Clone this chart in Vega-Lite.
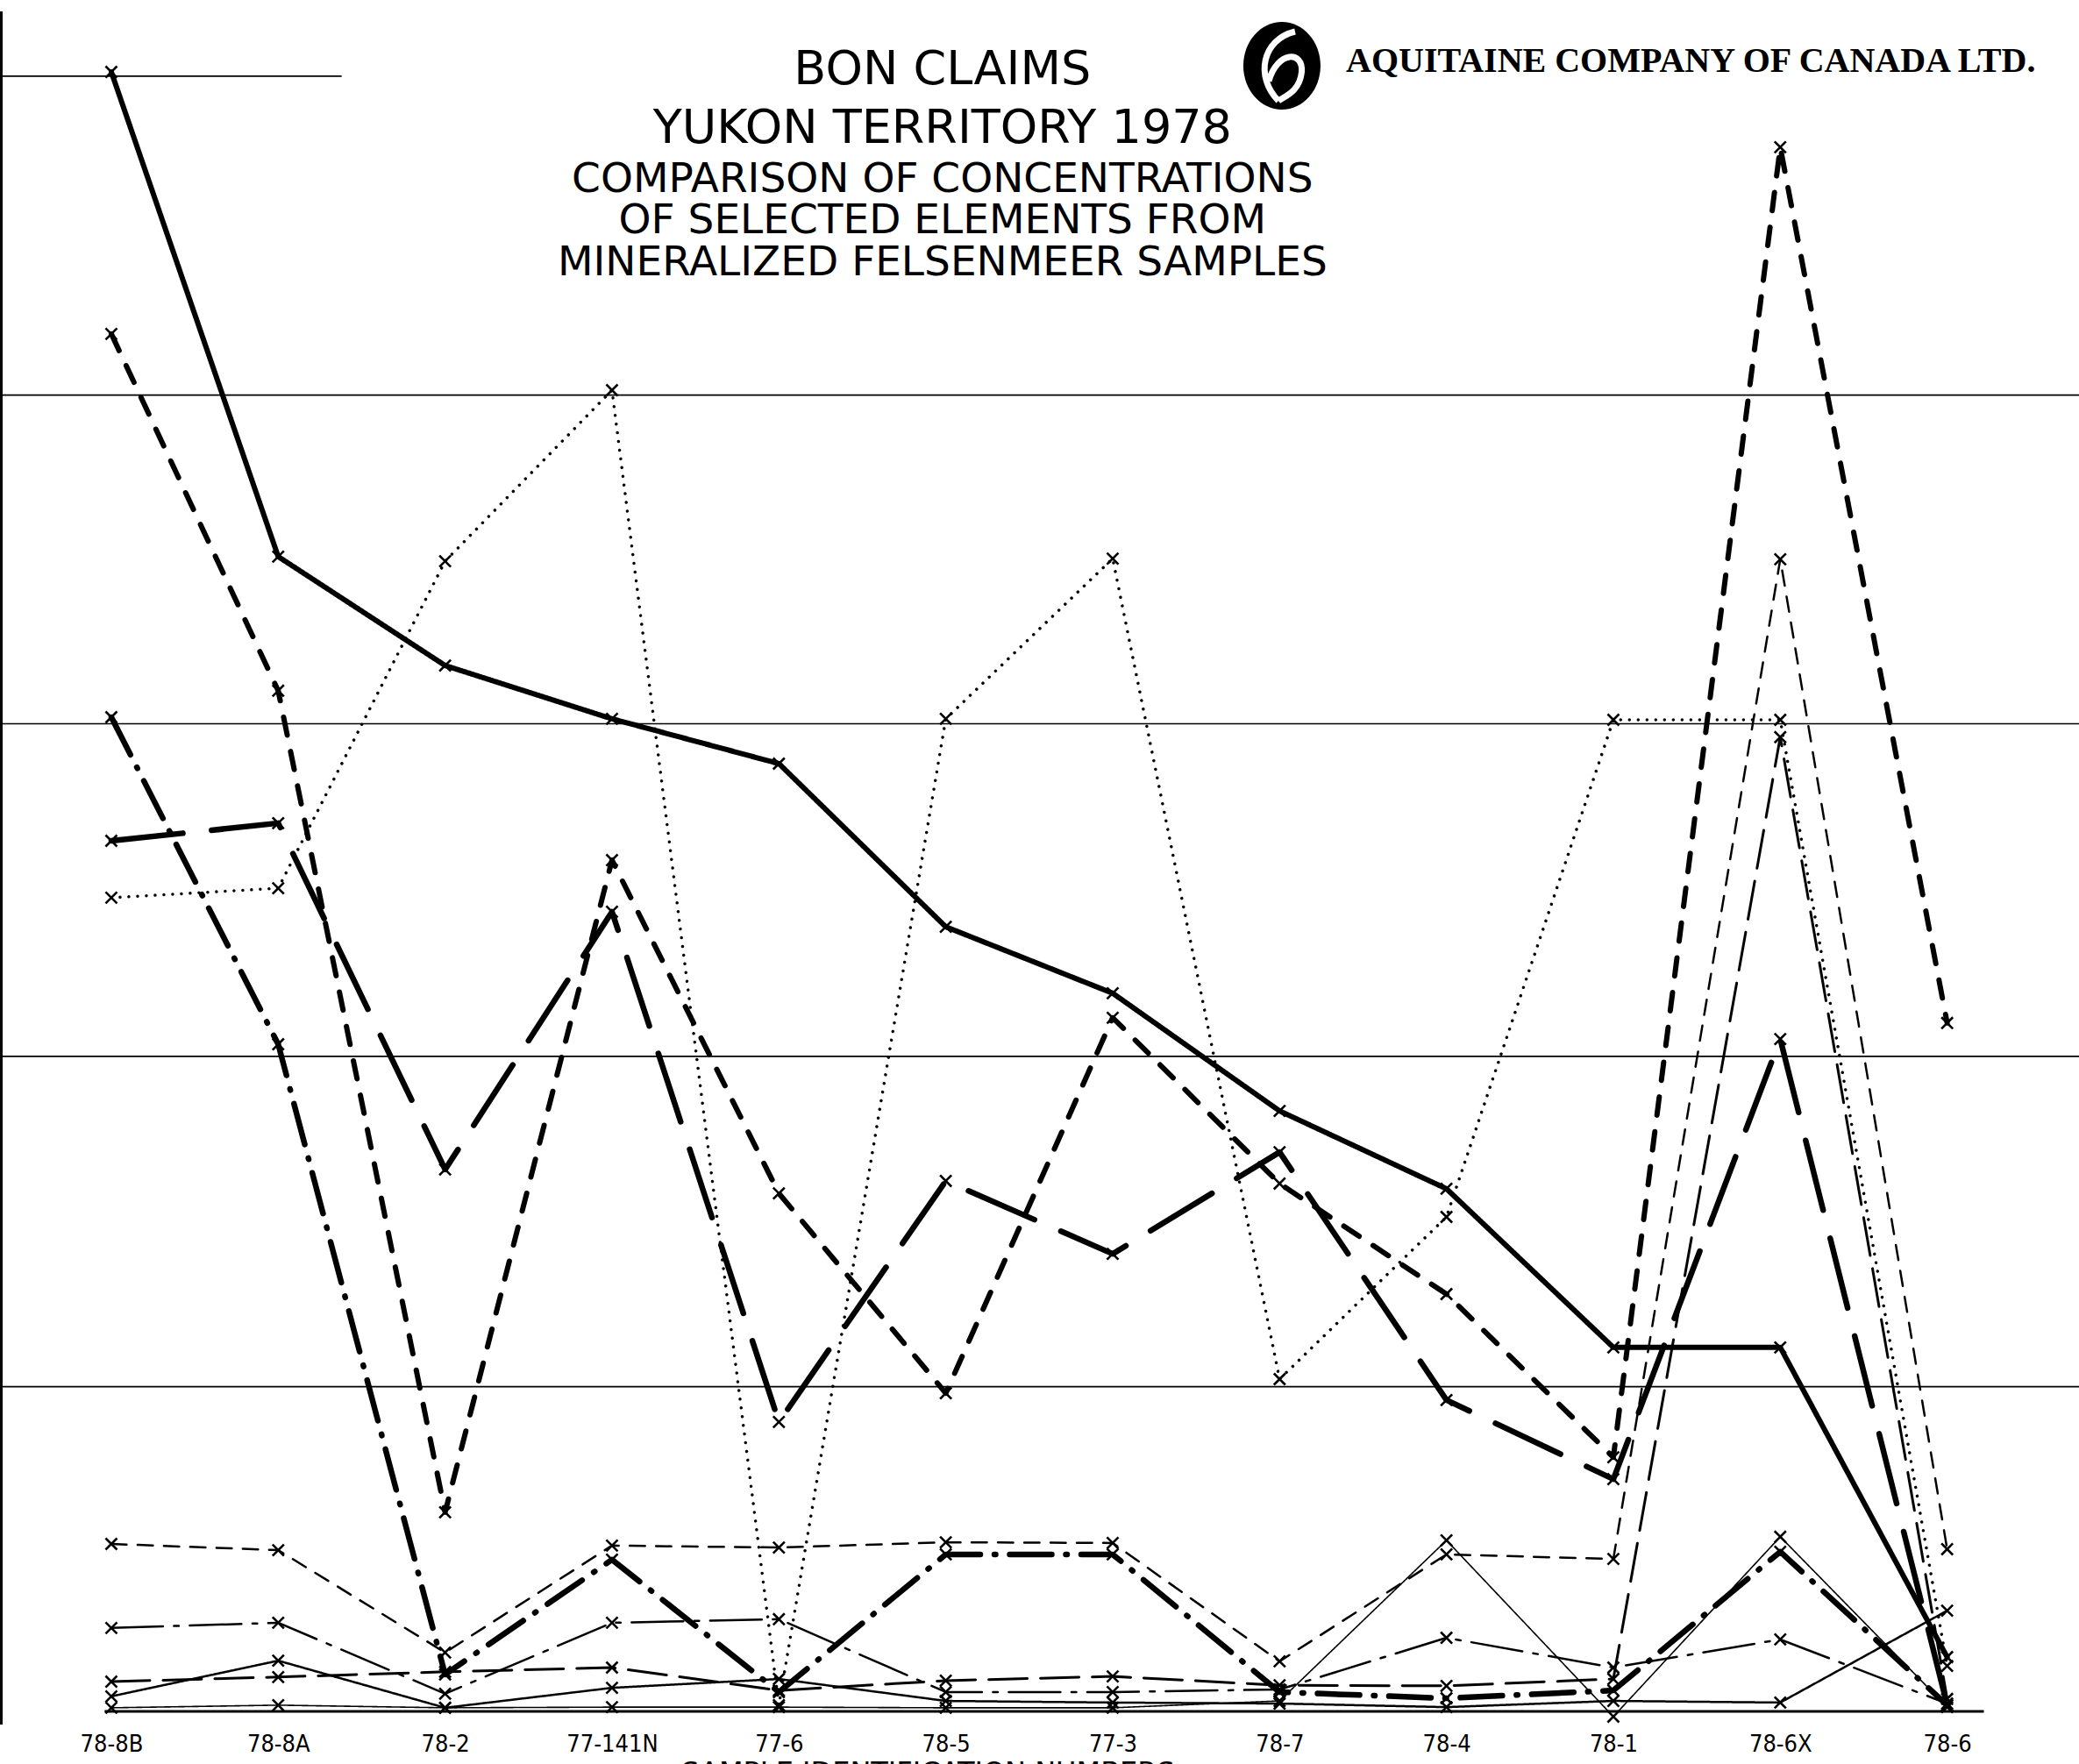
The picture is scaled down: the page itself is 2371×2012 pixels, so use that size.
{
  "$schema": "https://vega.github.io/schema/vega-lite/v6.json",
  "width": 2371,
  "height": 2012,
  "autosize": {"type": "none"},
  "padding": 0,
  "background": "white",
  "config": {"view": {"stroke": null}},
  "resolve": {"axis": {"x": "independent", "y": "independent"}},
  "datasets": {
    "pts": [
      {"s":"S1","sample":"78-8B","i":0,"v":501.3},{"s":"S1","sample":"78-8A","i":1,"v":353.1},{"s":"S1","sample":"78-2","i":2,"v":319.8},{"s":"S1","sample":"77-141N","i":3,"v":303.5},{"s":"S1","sample":"77-6","i":4,"v":289.8},{"s":"S1","sample":"78-5","i":5,"v":239.9},{"s":"S1","sample":"77-3","i":6,"v":219.6},{"s":"S1","sample":"78-7","i":7,"v":183.6},{"s":"S1","sample":"78-4","i":8,"v":159.8},{"s":"S1","sample":"78-1","i":9,"v":111.3},{"s":"S1","sample":"78-6X","i":10,"v":111.3},{"s":"S1","sample":"78-6","i":11,"v":16.6},
      {"s":"S2","sample":"78-8B","i":0,"v":421.2},{"s":"S2","sample":"78-8A","i":1,"v":312.1},{"s":"S2","sample":"78-2","i":2,"v":60.9},{"s":"S2","sample":"77-141N","i":3,"v":260.3},{"s":"S2","sample":"77-6","i":4,"v":158.4},{"s":"S2","sample":"78-5","i":5,"v":97.3},{"s":"S2","sample":"77-3","i":6,"v":212.1},{"s":"S2","sample":"78-7","i":7,"v":161.4},{"s":"S2","sample":"78-4","i":8,"v":127.6},{"s":"S2","sample":"78-1","i":9,"v":77.7},{"s":"S2","sample":"78-6X","i":10,"v":478.3},{"s":"S2","sample":"78-6","i":11,"v":210.5},
      {"s":"S3","sample":"78-8B","i":0,"v":304.0},{"s":"S3","sample":"78-8A","i":1,"v":204.0},{"s":"S3","sample":"78-2","i":2,"v":11.3},{"s":"S3","sample":"77-141N","i":3,"v":46.4},{"s":"S3","sample":"77-6","i":4,"v":5.9},{"s":"S3","sample":"78-5","i":5,"v":48.0},{"s":"S3","sample":"77-3","i":6,"v":48.0},{"s":"S3","sample":"78-7","i":7,"v":5.9},{"s":"S3","sample":"78-4","i":8,"v":4.0},{"s":"S3","sample":"78-1","i":9,"v":6.4},{"s":"S3","sample":"78-6X","i":10,"v":48.8},{"s":"S3","sample":"78-6","i":11,"v":1.9},
      {"s":"S4","sample":"78-8B","i":0,"v":266.2},{"s":"S4","sample":"78-8A","i":1,"v":271.6},{"s":"S4","sample":"78-2","i":2,"v":165.7},{"s":"S4","sample":"77-141N","i":3,"v":244.5},{"s":"S4","sample":"77-6","i":4,"v":88.5},{"s":"S4","sample":"78-5","i":5,"v":162.2},{"s":"S4","sample":"77-3","i":6,"v":139.9},{"s":"S4","sample":"78-7","i":7,"v":171.0},{"s":"S4","sample":"78-4","i":8,"v":95.2},{"s":"S4","sample":"78-1","i":9,"v":71.0},{"s":"S4","sample":"78-6X","i":10,"v":205.6},{"s":"S4","sample":"78-6","i":11,"v":1.9},
      {"s":"S5","sample":"78-8B","i":0,"v":248.8},{"s":"S5","sample":"78-8A","i":1,"v":251.7},{"s":"S5","sample":"78-2","i":2,"v":351.7},{"s":"S5","sample":"77-141N","i":3,"v":404.0},{"s":"S5","sample":"77-6","i":4,"v":1.9},{"s":"S5","sample":"78-5","i":5,"v":303.5},{"s":"S5","sample":"77-3","i":6,"v":352.5},{"s":"S5","sample":"78-7","i":7,"v":101.6},{"s":"S5","sample":"78-4","i":8,"v":151.2},{"s":"S5","sample":"78-1","i":9,"v":303.2},{"s":"S5","sample":"78-6X","i":10,"v":303.2},{"s":"S5","sample":"78-6","i":11,"v":13.9},
      {"s":"S6","sample":"78-8B","i":0,"v":51.2},{"s":"S6","sample":"78-8A","i":1,"v":49.3},{"s":"S6","sample":"78-2","i":2,"v":18.0},{"s":"S6","sample":"77-141N","i":3,"v":50.7},{"s":"S6","sample":"77-6","i":4,"v":50.1},{"s":"S6","sample":"78-5","i":5,"v":51.7},{"s":"S6","sample":"77-3","i":6,"v":51.5},{"s":"S6","sample":"78-7","i":7,"v":15.3},{"s":"S6","sample":"78-4","i":8,"v":48.0},{"s":"S6","sample":"78-1","i":9,"v":46.6},{"s":"S6","sample":"78-6X","i":10,"v":352.3},{"s":"S6","sample":"78-6","i":11,"v":49.6},
      {"s":"S7","sample":"78-8B","i":0,"v":25.5},{"s":"S7","sample":"78-8A","i":1,"v":27.1},{"s":"S7","sample":"78-2","i":2,"v":5.4},{"s":"S7","sample":"77-141N","i":3,"v":27.1},{"s":"S7","sample":"77-6","i":4,"v":28.2},{"s":"S7","sample":"78-5","i":5,"v":5.9},{"s":"S7","sample":"77-3","i":6,"v":5.9},{"s":"S7","sample":"78-7","i":7,"v":6.7},{"s":"S7","sample":"78-4","i":8,"v":22.5},{"s":"S7","sample":"78-1","i":9,"v":13.4},{"s":"S7","sample":"78-6X","i":10,"v":22.0},{"s":"S7","sample":"78-6","i":11,"v":2.4},
      {"s":"S8","sample":"78-8B","i":0,"v":9.1},{"s":"S8","sample":"78-8A","i":1,"v":10.5},{"s":"S8","sample":"78-2","i":2,"v":12.1},{"s":"S8","sample":"77-141N","i":3,"v":13.4},{"s":"S8","sample":"77-6","i":4,"v":6.4},{"s":"S8","sample":"78-5","i":5,"v":9.4},{"s":"S8","sample":"77-3","i":6,"v":10.7},{"s":"S8","sample":"78-7","i":7,"v":8.0},{"s":"S8","sample":"78-4","i":8,"v":7.8},{"s":"S8","sample":"78-1","i":9,"v":9.9},{"s":"S8","sample":"78-6X","i":10,"v":297.9},{"s":"S8","sample":"78-6","i":11,"v":3.8},
      {"s":"S9","sample":"78-8B","i":0,"v":4.6},{"s":"S9","sample":"78-8A","i":1,"v":15.5},{"s":"S9","sample":"78-2","i":2,"v":1.1},{"s":"S9","sample":"77-141N","i":3,"v":7.2},{"s":"S9","sample":"77-6","i":4,"v":9.9},{"s":"S9","sample":"78-5","i":5,"v":3.2},{"s":"S9","sample":"77-3","i":6,"v":2.7},{"s":"S9","sample":"78-7","i":7,"v":2.4},{"s":"S9","sample":"78-4","i":8,"v":1.3},{"s":"S9","sample":"78-1","i":9,"v":3.2},{"s":"S9","sample":"78-6X","i":10,"v":2.7},{"s":"S9","sample":"78-6","i":11,"v":30.8},
      {"s":"S10","sample":"78-8B","i":0,"v":1.1},{"s":"S10","sample":"78-8A","i":1,"v":1.9},{"s":"S10","sample":"78-2","i":2,"v":1.1},{"s":"S10","sample":"77-141N","i":3,"v":1.3},{"s":"S10","sample":"77-6","i":4,"v":1.3},{"s":"S10","sample":"78-5","i":5,"v":1.1},{"s":"S10","sample":"77-3","i":6,"v":1.1},{"s":"S10","sample":"78-7","i":7,"v":3.2},{"s":"S10","sample":"78-4","i":8,"v":52.3},{"s":"S10","sample":"78-1","i":9,"v":-1.6},{"s":"S10","sample":"78-6X","i":10,"v":53.4},{"s":"S10","sample":"78-6","i":11,"v":1.3}
    ]
  },
  "layer": [
    {
      "data": {"values": [{"g": 99.3}, {"g": 200.3}, {"g": 302.0}, {"g": 402.5}]},
      "mark": {"type": "rule", "color": "black", "strokeWidth": 1.6},
      "encoding": {
        "y": {"field": "g", "type": "quantitative", "axis": null, "scale": {"domain": [-16.09, 523.3], "nice": false, "zero": false}}
      }
    },
    {
      "data": {"name": "pts"},
      "mark": {"type": "line", "color": "black", "strokeCap": "round", "strokeJoin": "round"},
      "encoding": {
        "x": {
          "field": "i", "type": "quantitative",
          "scale": {"domain": [-0.667, 11.79], "nice": false, "zero": false},
          "axis": {
            "values": [0,1,2,3,4,5,6,7,8,9,10,11],
            "labelExpr": "['78-8B','78-8A','78-2','77-141N','77-6','78-5','77-3','78-7','78-4','78-1','78-6X','78-6'][datum.value]",
            "grid": false, "ticks": false, "domain": false,
            "labelFont": "DejaVu Sans Condensed, DejaVu Sans", "labelFontSize": 27, "labelColor": "black",
            "labelPadding": 4, "labelFlush": false, "labelOverlap": false, "offset": -40,
            "title": "SAMPLE IDENTIFICATION NUMBERS",
            "titleFont": "DejaVu Sans", "titleFontSize": 32, "titleFontWeight": "normal", "titleColor": "black",
            "titleX": 1058, "titleY": 34, "titleBaseline": "top", "titleAlign": "center"
          }
        },
        "y": {
          "field": "v", "type": "quantitative",
          "scale": {"domain": [-16.09, 523.3], "nice": false, "zero": false},
          "axis": null
        },
        "strokeDash": {
          "field": "s", "type": "nominal", "legend": null,
          "scale": {
            "domain": ["S1","S2","S3","S4","S5","S6","S7","S8","S9","S10"],
            "range": [[1,0],[21,19],[48,16,1.5,16],[82,33],[0.01,10],[17.5,12.5],[59,12.5,5.5,12.5],[44,15],[1,0],[1,0]]
          }
        },
        "strokeWidth": {
          "field": "s", "type": "ordinal", "legend": null,
          "scale": {
            "type": "ordinal",
            "domain": ["S1","S2","S3","S4","S5","S6","S7","S8","S9","S10"],
            "range": [6, 6, 6.5, 6.5, 3.5, 2.5, 2.5, 3, 2.5, 1.6]
          }
        }
      }
    },
    {
      "data": {"name": "pts"},
      "mark": {"type": "point", "shape": "M-1,-1L1,1M-1,1L1,-1", "filled": false, "stroke": "black", "strokeWidth": 2.6, "size": 170, "opacity": 1},
      "encoding": {
        "x": {"field": "i", "type": "quantitative", "axis": null},
        "y": {"field": "v", "type": "quantitative", "axis": null}
      }
    },
    {
      "data": {"values": [{}]},
      "mark": {"type": "rule", "color": "black", "strokeWidth": 1.6},
      "encoding": {
        "x": {"datum": -0.667, "type": "quantitative", "axis": null},
        "x2": {"datum": 1.38},
        "y": {"datum": 500, "type": "quantitative", "axis": null}
      }
    },
    {
      "data": {"values": [{}]},
      "mark": {"type": "rule", "color": "black", "strokeWidth": 3.2},
      "encoding": {
        "x": {"datum": -0.04, "type": "quantitative", "axis": null},
        "x2": {"datum": 11.22},
        "y": {"datum": 0, "type": "quantitative", "axis": null}
      }
    },
    {
      "data": {"values": [{}]},
      "mark": {"type": "rule", "color": "black", "strokeWidth": 3},
      "encoding": {
        "x": {"datum": -0.659, "type": "quantitative", "axis": null},
        "y": {"datum": 519.8, "type": "quantitative", "axis": null},
        "y2": {"datum": -4}
      }
    },
    {
      "data": {"values": [{"t": ["BON CLAIMS", "YUKON TERRITORY 1978"]}]},
      "mark": {"type": "text", "align": "center", "baseline": "middle", "font": "DejaVu Sans", "fontSize": 54, "lineHeight": 67, "color": "black"},
      "encoding": {
        "text": {"field": "t"},
        "x": {"datum": 4.98, "type": "quantitative", "axis": null},
        "y": {"datum": 501.9, "type": "quantitative", "axis": null}
      }
    },
    {
      "data": {"values": [{"t": ["COMPARISON OF CONCENTRATIONS", "OF SELECTED ELEMENTS FROM", "MINERALIZED FELSENMEER SAMPLES"]}]},
      "mark": {"type": "text", "align": "center", "baseline": "middle", "font": "DejaVu Sans", "fontSize": 47, "lineHeight": 47.6, "color": "black"},
      "encoding": {
        "text": {"field": "t"},
        "x": {"datum": 4.98, "type": "quantitative", "axis": null},
        "y": {"datum": 468.4, "type": "quantitative", "axis": null}
      }
    },
    {
      "data": {"values": [{"t": "AQUITAINE COMPANY OF CANADA LTD."}]},
      "mark": {"type": "text", "align": "left", "baseline": "middle", "font": "Liberation Serif", "fontSize": 40, "fontWeight": "bold", "color": "black"},
      "encoding": {
        "text": {"field": "t"},
        "x": {"datum": 7.398, "type": "quantitative", "axis": null},
        "y": {"datum": 504.6, "type": "quantitative", "axis": null}
      }
    },
    {
      "data": {"values": [{}]},
      "mark": {"type": "point", "shape": "M0,-1C0.486,-1 0.88,-0.552 0.88,0C0.88,0.552 0.486,1 0,1C-0.486,1 -0.88,0.552 -0.88,0C-0.88,-0.552 -0.486,-1 0,-1Z", "filled": true, "fill": "black", "strokeWidth": 0, "size": 10000, "opacity": 1},
      "encoding": {
        "x": {"datum": 7.014, "type": "quantitative", "axis": null},
        "y": {"datum": 503.2, "type": "quantitative", "axis": null}
      }
    },
    {
      "data": {"values": [{}]},
      "mark": {"type": "point", "shape": "M0.3,-0.78C-0.45,-0.6 -0.62,0.25 -0.08,0.8M-0.3,0.35C-0.1,-0.35 0.5,-0.35 0.45,0.15C0.4,0.6 0.05,0.7 -0.08,0.8", "filled": false, "stroke": "white", "strokeWidth": 7, "size": 10000, "opacity": 1},
      "encoding": {
        "x": {"datum": 7.014, "type": "quantitative", "axis": null},
        "y": {"datum": 503.2, "type": "quantitative", "axis": null}
      }
    }
  ]
}
